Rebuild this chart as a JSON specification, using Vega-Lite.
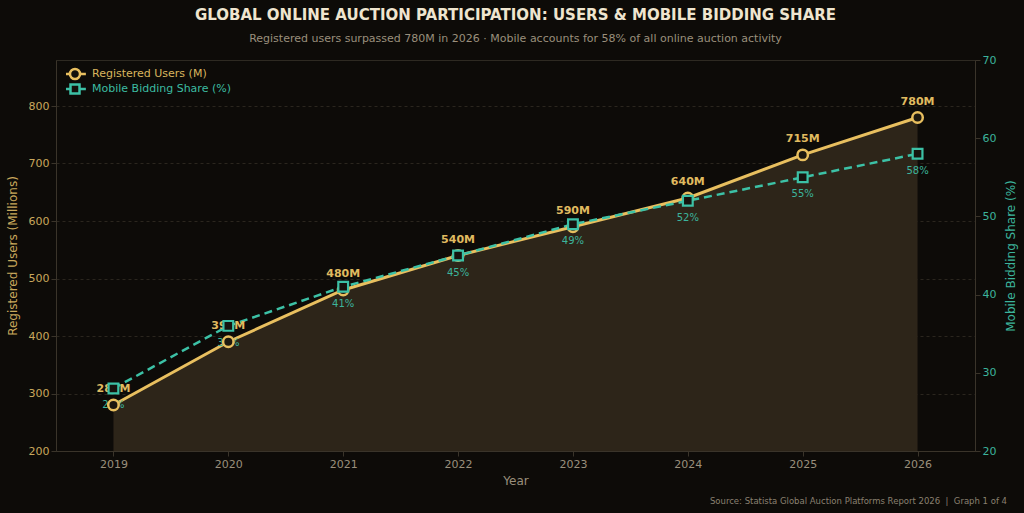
{
  "$schema": "https://vega.github.io/schema/vega-lite/v6.json",
  "width": 919,
  "height": 391,
  "autosize": {"type": "none"},
  "padding": {"left": 56, "top": 60, "right": 49, "bottom": 62},
  "background": "#0d0b08",
  "config": {
    "font": "DejaVu Sans",
    "view": {"fill": "#13110c", "stroke": "#2e2a22", "strokeWidth": 1},
    "axis": {
      "domainColor": "#3a342a",
      "tickColor": "#3a342a",
      "tickSize": 5,
      "labelFontSize": 11,
      "titleFontSize": 12,
      "titleFontWeight": "normal",
      "gridColor": "#2b261e",
      "gridDash": [3, 3],
      "gridWidth": 1
    },
    "legend": {
      "orient": "none",
      "legendX": 10,
      "legendY": 6.5,
      "labelFontSize": 11,
      "rowPadding": 0,
      "clipHeight": 15,
      "symbolSize": 225,
      "symbolStrokeWidth": 2.5,
      "labelOffset": 8
    }
  },
  "title": {
    "text": "GLOBAL ONLINE AUCTION PARTICIPATION: USERS & MOBILE BIDDING SHARE",
    "subtitle": "Registered users surpassed 780M in 2026 · Mobile accounts for 58% of all online auction activity",
    "color": "#efe5cf",
    "fontSize": 15,
    "fontWeight": "bold",
    "subtitleColor": "#9a8f7c",
    "subtitleFontSize": 11,
    "subtitlePadding": 10,
    "offset": 10,
    "anchor": "middle",
    "frame": "group"
  },
  "data": {
    "values": [
      {"year": 2019, "users": 280, "mobile": 28},
      {"year": 2020, "users": 390, "mobile": 36},
      {"year": 2021, "users": 480, "mobile": 41},
      {"year": 2022, "users": 540, "mobile": 45},
      {"year": 2023, "users": 590, "mobile": 49},
      {"year": 2024, "users": 640, "mobile": 52},
      {"year": 2025, "users": 715, "mobile": 55},
      {"year": 2026, "users": 780, "mobile": 58}
    ]
  },
  "transform": [
    {"calculate": "datum.users + 'M'", "as": "ulabel"},
    {"calculate": "datum.mobile + '%'", "as": "mlabel"}
  ],
  "layer": [
    {
      "mark": {"type": "area", "color": "#2d2519", "opacity": 1},
      "encoding": {
        "x": {
          "field": "year", "type": "quantitative",
          "scale": {"domain": [2018.5, 2026.5], "nice": false, "zero": false},
          "axis": {"values": [2019, 2020, 2021, 2022, 2023, 2024, 2025, 2026], "format": "d", "title": "Year", "labelColor": "#9a8f7c", "titleColor": "#9a8f7c", "grid": false, "labelPadding": 2, "titlePadding": 6}
        },
        "y": {
          "field": "users", "type": "quantitative",
          "scale": {"domain": [200, 880], "nice": false, "zero": false},
          "axis": {"orient": "left", "values": [200, 300, 400, 500, 600, 700, 800], "title": "Registered Users (Millions)", "labelColor": "#c9a85c", "titleColor": "#c9a85c", "grid": true, "titlePadding": 9}
        },
        "y2": {"datum": 200}
      }
    },
    {
      "mark": {"type": "line", "strokeWidth": 3},
      "encoding": {
        "x": {"field": "year", "type": "quantitative"},
        "y": {"field": "users", "type": "quantitative", "scale": {"domain": [200, 880], "nice": false, "zero": false}, "axis": null},
        "color": {
          "datum": "Registered Users (M)",
          "type": "nominal",
          "scale": {"domain": ["Registered Users (M)", "Mobile Bidding Share (%)"], "range": ["#e8bf5f", "#3cc1a6"]},
          "legend": {
            "title": null,
            "symbolType": "circle",
            "encode": {
              "labels": {"update": {"fill": {"signal": "datum.label === 'Registered Users (M)' ? '#d9b55e' : '#3cbba1'"}}},
              "symbols": {"update": {
                "shape": {"signal": "datum.label === 'Registered Users (M)' ? 'M-1.45,0H-0.67M0.67,0H1.45M-0.67,0A0.67,0.67 0 1,0 0.67,0A0.67,0.67 0 1,0 -0.67,0Z' : 'M-1.45,0H-0.6M0.6,0H1.45M-0.6,-0.6H0.6V0.6H-0.6Z'"},
                "fill": {"value": "#13110c"}
              }}
            }
          }
        }
      }
    },
    {
      "mark": {"type": "line", "strokeWidth": 2.5, "strokeDash": [8, 5]},
      "encoding": {
        "x": {"field": "year", "type": "quantitative"},
        "y": {
          "field": "mobile", "type": "quantitative",
          "scale": {"domain": [20, 70], "nice": false, "zero": false},
          "axis": {"orient": "right", "values": [20, 30, 40, 50, 60, 70], "title": "Mobile Bidding Share (%)", "labelColor": "#3cb49c", "titleColor": "#3cb49c", "grid": false, "titlePadding": 22, "titleAngle": 270}
        },
        "color": {"datum": "Mobile Bidding Share (%)", "type": "nominal"}
      }
    },
    {
      "mark": {"type": "text", "dy": -16, "fontSize": 11, "fontWeight": "bold", "color": "#e0bb60"},
      "encoding": {
        "x": {"field": "year", "type": "quantitative"},
        "y": {"field": "users", "type": "quantitative", "scale": {"domain": [200, 880], "nice": false, "zero": false}, "axis": null},
        "text": {"field": "ulabel"}
      }
    },
    {
      "mark": {"type": "text", "dy": 17, "fontSize": 10, "color": "#3cb49c"},
      "encoding": {
        "x": {"field": "year", "type": "quantitative"},
        "y": {"field": "mobile", "type": "quantitative", "scale": {"domain": [20, 70], "nice": false, "zero": false}, "axis": null},
        "text": {"field": "mlabel"}
      }
    },
    {
      "mark": {"type": "point", "shape": "circle", "filled": false, "size": 110, "strokeWidth": 2.5, "stroke": "#e8bf5f", "fill": "#1c1810", "fillOpacity": 1, "opacity": 1},
      "encoding": {
        "x": {"field": "year", "type": "quantitative"},
        "y": {"field": "users", "type": "quantitative", "scale": {"domain": [200, 880], "nice": false, "zero": false}, "axis": null}
      }
    },
    {
      "mark": {"type": "point", "shape": "square", "filled": false, "size": 95, "strokeWidth": 2.2, "stroke": "#3cc1a6", "fill": "#16130e", "fillOpacity": 1, "opacity": 1},
      "encoding": {
        "x": {"field": "year", "type": "quantitative"},
        "y": {"field": "mobile", "type": "quantitative", "scale": {"domain": [20, 70], "nice": false, "zero": false}, "axis": null}
      }
    },
    {
      "data": {"values": [{"t": "Source: Statista Global Auction Platforms Report 2026 \u00a0|\u00a0 Graph 1 of 4"}]},
      "transform": [],
      "mark": {"type": "text", "align": "right", "baseline": "middle", "fontSize": 8.5, "color": "#8a8070", "x": {"expr": "width + 32"}, "y": {"expr": "height + 50"}},
      "encoding": {"text": {"field": "t"}}
    }
  ],
  "resolve": {"scale": {"y": "independent"}}
}
